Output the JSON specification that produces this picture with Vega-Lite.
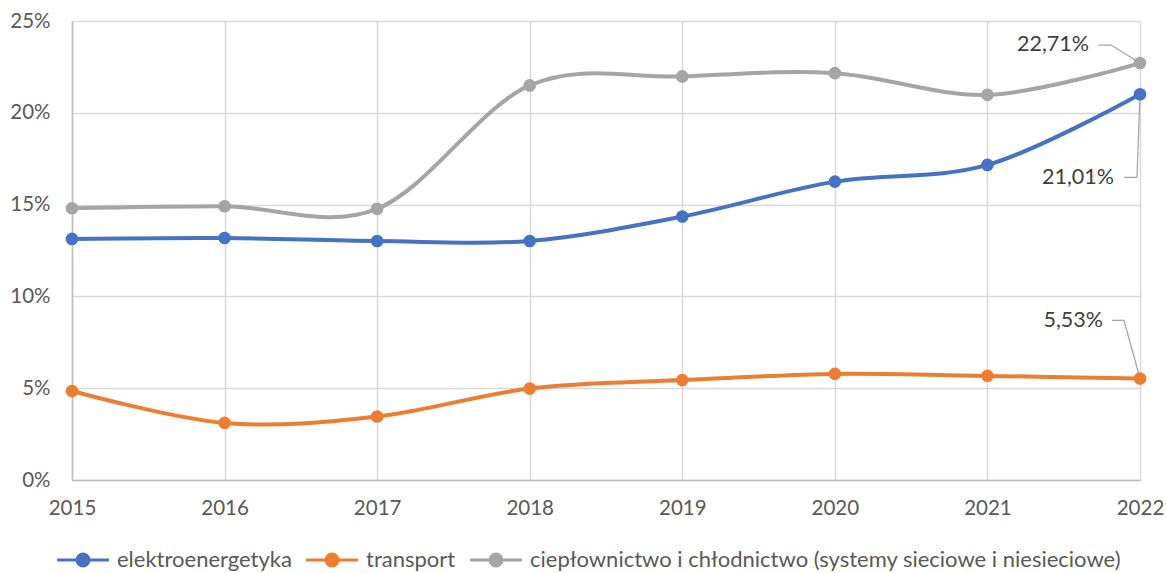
{
  "$schema": "https://vega.github.io/schema/vega-lite/v6.json",
  "width": 1068,
  "height": 459,
  "autosize": "none",
  "padding": {"left": 72, "top": 21, "right": 26, "bottom": 93},
  "background": "white",
  "config": {
    "locale": {
      "number": {"decimal": ",", "thousands": " ", "grouping": [3], "currency": ["", " zł"]}
    },
    "font": "Lato",
    "view": {"stroke": null},
    "axis": {
      "labelFont": "Lato",
      "labelFontSize": 20.5,
      "labelColor": "#595959",
      "domainColor": "#BFBFBF",
      "domainWidth": 1.5,
      "gridColor": "#D9D9D9",
      "gridWidth": 1.5,
      "ticks": false,
      "title": null
    }
  },
  "datasets": {
    "udzial": [
      {"rok": "2015", "sektor": "elektroenergetyka", "kolejnosc": 1, "udzial": 0.1313},
      {"rok": "2016", "sektor": "elektroenergetyka", "kolejnosc": 1, "udzial": 0.1318},
      {"rok": "2017", "sektor": "elektroenergetyka", "kolejnosc": 1, "udzial": 0.1302},
      {"rok": "2018", "sektor": "elektroenergetyka", "kolejnosc": 1, "udzial": 0.1302},
      {"rok": "2019", "sektor": "elektroenergetyka", "kolejnosc": 1, "udzial": 0.1435},
      {"rok": "2020", "sektor": "elektroenergetyka", "kolejnosc": 1, "udzial": 0.1625},
      {"rok": "2021", "sektor": "elektroenergetyka", "kolejnosc": 1, "udzial": 0.1716},
      {"rok": "2022", "sektor": "elektroenergetyka", "kolejnosc": 1, "udzial": 0.2101},
      {"rok": "2015", "sektor": "transport", "kolejnosc": 2, "udzial": 0.0485},
      {"rok": "2016", "sektor": "transport", "kolejnosc": 2, "udzial": 0.0311},
      {"rok": "2017", "sektor": "transport", "kolejnosc": 2, "udzial": 0.0346},
      {"rok": "2018", "sektor": "transport", "kolejnosc": 2, "udzial": 0.0498},
      {"rok": "2019", "sektor": "transport", "kolejnosc": 2, "udzial": 0.0544},
      {"rok": "2020", "sektor": "transport", "kolejnosc": 2, "udzial": 0.0578},
      {"rok": "2021", "sektor": "transport", "kolejnosc": 2, "udzial": 0.0567},
      {"rok": "2022", "sektor": "transport", "kolejnosc": 2, "udzial": 0.0553},
      {"rok": "2015", "sektor": "ciepłownictwo i chłodnictwo (systemy sieciowe i niesieciowe)", "kolejnosc": 3, "udzial": 0.1480},
      {"rok": "2016", "sektor": "ciepłownictwo i chłodnictwo (systemy sieciowe i niesieciowe)", "kolejnosc": 3, "udzial": 0.1491},
      {"rok": "2017", "sektor": "ciepłownictwo i chłodnictwo (systemy sieciowe i niesieciowe)", "kolejnosc": 3, "udzial": 0.1477},
      {"rok": "2018", "sektor": "ciepłownictwo i chłodnictwo (systemy sieciowe i niesieciowe)", "kolejnosc": 3, "udzial": 0.2149},
      {"rok": "2019", "sektor": "ciepłownictwo i chłodnictwo (systemy sieciowe i niesieciowe)", "kolejnosc": 3, "udzial": 0.2198},
      {"rok": "2020", "sektor": "ciepłownictwo i chłodnictwo (systemy sieciowe i niesieciowe)", "kolejnosc": 3, "udzial": 0.2216},
      {"rok": "2021", "sektor": "ciepłownictwo i chłodnictwo (systemy sieciowe i niesieciowe)", "kolejnosc": 3, "udzial": 0.2098},
      {"rok": "2022", "sektor": "ciepłownictwo i chłodnictwo (systemy sieciowe i niesieciowe)", "kolejnosc": 3, "udzial": 0.2271}
    ]
  },
  "data": {"name": "udzial"},
  "encoding": {
    "x": {
      "field": "rok",
      "type": "ordinal",
      "scale": {"type": "point", "padding": 0},
      "axis": {"labelAngle": 0, "grid": true, "labelPadding": 18, "domain": true}
    },
    "y": {
      "field": "udzial",
      "type": "quantitative",
      "scale": {"domain": [0, 0.25], "nice": false},
      "axis": {"values": [0, 0.05, 0.1, 0.15, 0.2, 0.25], "format": ".0%", "labelPadding": 22, "grid": true, "domain": true}
    }
  },
  "layer": [
    {
      "mark": {"type": "line", "interpolate": "cardinal", "strokeWidth": 4, "strokeCap": "round"},
      "encoding": {
        "color": {
          "field": "sektor",
          "type": "nominal",
          "sort": {"field": "kolejnosc"},
          "scale": {
            "domain": ["elektroenergetyka", "transport", "ciepłownictwo i chłodnictwo (systemy sieciowe i niesieciowe)"],
            "range": ["#4472C4", "#ED7D31", "#A5A5A5"]
          },
          "legend": {
            "title": null,
            "orient": "bottom",
            "direction": "horizontal",
            "offset": 30,
            "symbolType": "M-3.7,0H3.7M0.85,0A0.85,0.85 0 1,1 -0.85,0A0.85,0.85 0 1,1 0.85,0Z",
            "symbolSize": 196,
            "symbolStrokeWidth": 3,
            "symbolOpacity": 1,
            "labelFont": "Lato",
            "labelFontSize": 22,
            "labelColor": "#595959",
            "labelLimit": 1000,
            "labelOffset": 23,
            "columnPadding": 8,
            "encode": {
              "symbols": {
                "update": {
                  "fill": {"scale": "color", "field": "value"},
                  "stroke": {"scale": "color", "field": "value"}
                }
              }
            }
          }
        }
      }
    },
    {
      "transform": [{"filter": "datum.rok === '2022' && datum.kolejnosc === 3"}],
      "mark": {"type": "point", "shape": "M0,0L-29,-18L-42,-18", "size": 4, "filled": false, "stroke": "#A5A5A5", "strokeWidth": 1.25, "opacity": 1}
    },
    {
      "transform": [{"filter": "datum.rok === '2022' && datum.kolejnosc === 1"}],
      "mark": {"type": "point", "shape": "M0,0L-3,83L-16,83", "size": 4, "filled": false, "stroke": "#A5A5A5", "strokeWidth": 1.25, "opacity": 1}
    },
    {
      "transform": [{"filter": "datum.rok === '2022' && datum.kolejnosc === 2"}],
      "mark": {"type": "point", "shape": "M0,0L-16,-58L-28,-58", "size": 4, "filled": false, "stroke": "#A5A5A5", "strokeWidth": 1.25, "opacity": 1}
    },
    {
      "mark": {"type": "circle", "size": 160, "opacity": 1},
      "encoding": {
        "color": {"field": "sektor", "type": "nominal", "sort": {"field": "kolejnosc"}}
      }
    },
    {
      "transform": [{"filter": "datum.rok === '2022' && datum.kolejnosc === 3"}],
      "mark": {"type": "text", "align": "right", "baseline": "middle", "dx": -51, "dy": -18, "font": "Lato", "fontSize": 21.5, "color": "#404040"},
      "encoding": {"text": {"field": "udzial", "type": "quantitative", "format": ".2%"}}
    },
    {
      "transform": [{"filter": "datum.rok === '2022' && datum.kolejnosc === 1"}],
      "mark": {"type": "text", "align": "right", "baseline": "middle", "dx": -26, "dy": 84, "font": "Lato", "fontSize": 21.5, "color": "#404040"},
      "encoding": {"text": {"field": "udzial", "type": "quantitative", "format": ".2%"}}
    },
    {
      "transform": [{"filter": "datum.rok === '2022' && datum.kolejnosc === 2"}],
      "mark": {"type": "text", "align": "right", "baseline": "middle", "dx": -37, "dy": -57, "font": "Lato", "fontSize": 21.5, "color": "#404040"},
      "encoding": {"text": {"field": "udzial", "type": "quantitative", "format": ".2%"}}
    }
  ]
}
